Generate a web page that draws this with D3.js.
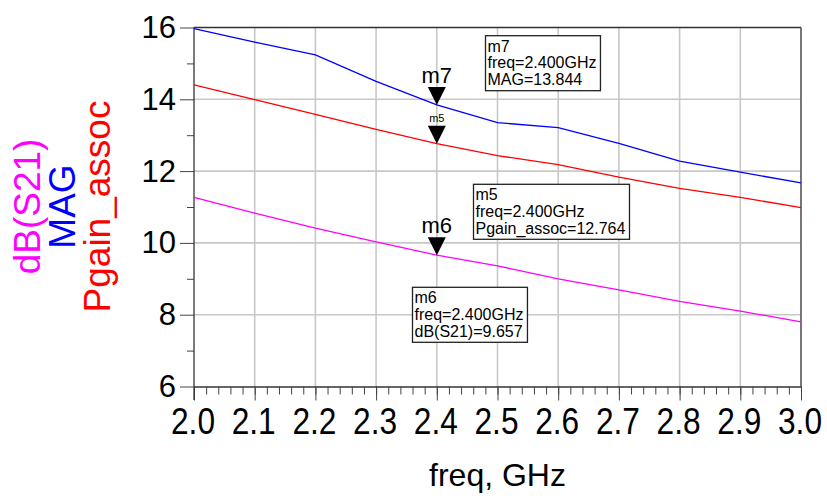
<!DOCTYPE html>
<html>
<head>
<meta charset="utf-8">
<script src="https://cdn.jsdelivr.net/npm/d3@7"></script>
<style>
  body { margin: 0; background: #fff; }
  text { font-family: "Liberation Sans", Arial, sans-serif; }
</style>
</head>
<body>
<div id="svg-area"></div>
<script>
// chart data
var freq = [2.0, 2.1, 2.2, 2.3, 2.4, 2.5, 2.6, 2.7, 2.8, 2.9, 3.0];
var mag = [15.97, 15.59, 15.24, 14.50, 13.844, 13.35, 13.21, 12.77, 12.28, 11.97, 11.67];
var pgainAssoc = [14.40, 13.99, 13.58, 13.16, 12.764, 12.43, 12.18, 11.83, 11.52, 11.27, 10.98];
var dbS21 = [11.27, 10.83, 10.41, 10.03, 9.657, 9.36, 9.00, 8.69, 8.37, 8.10, 7.80];
var xTicks = [2.0, 2.1, 2.2, 2.3, 2.4, 2.5, 2.6, 2.7, 2.8, 2.9, 3.0];
var yTicks = [6, 8, 10, 12, 14, 16];

// markers: name, trace, value at 2.4 GHz
var markerFreq = 2.4;
var markers = [
  { name: "m7", label: "MAG", value: 13.844, big: true },
  { name: "m5", label: "Pgain_assoc", value: 12.764, big: false },
  { name: "m6", label: "dB(S21)", value: 9.657, big: true }
];

var svgWidth = 827;
var svgHeight = 500;

var svg = d3.select("#svg-area")
  .append("svg")
  .attr("width", svgWidth)
  .attr("height", svgHeight);

svg.append("rect").attr("width", svgWidth).attr("height", svgHeight).attr("fill", "#fff");

// plot box (window.top is reserved, hence the prefixes)
var plotLeft = 194, plotRight = 801, plotTop = 27.5, plotBottom = 386.5;

var xScale = d3.scaleLinear().domain([2.0, 3.0]).range([plotLeft, plotRight]);
var yScale = d3.scaleLinear().domain([6, 16]).range([plotBottom, plotTop]);

// grid
var grid = svg.append("g").attr("stroke", "#c8c8c8").attr("stroke-width", 1.6);
grid.selectAll(".vg")
  .data(xTicks.slice(1))
  .enter().append("line")
  .attr("x1", d => xScale(d)).attr("x2", d => xScale(d))
  .attr("y1", plotTop).attr("y2", plotBottom);
grid.selectAll(".hg")
  .data(yTicks.slice(1, -1))
  .enter().append("line")
  .attr("x1", plotLeft).attr("x2", plotRight)
  .attr("y1", d => yScale(d)).attr("y2", d => yScale(d));

// frame top and right
svg.append("line")
  .attr("x1", plotLeft).attr("x2", plotRight)
  .attr("y1", plotTop).attr("y2", plotTop)
  .attr("stroke", "#333").attr("stroke-width", 1.5);
svg.append("line")
  .attr("x1", plotRight).attr("x2", plotRight)
  .attr("y1", plotTop).attr("y2", plotBottom)
  .attr("stroke", "#444").attr("stroke-width", 1.3);

// x axis
var minorX = d3.range(0, 51).map(i => 2.0 + i * 0.02);
svg.append("g")
  .attr("transform", `translate(0, ${plotBottom})`)
  .call(d3.axisBottom(xScale).tickValues(minorX).tickSize(8).tickSizeOuter(0).tickFormat(""))
  .call(g => g.selectAll("line").attr("stroke", "#444"))
  .call(g => g.select(".domain").attr("stroke", "#333").attr("stroke-width", 1.3));

var xAxis = svg.append("g")
  .attr("transform", `translate(0, ${plotBottom})`)
  .call(d3.axisBottom(xScale).tickValues(xTicks).tickSize(14).tickSizeOuter(0).tickFormat(d3.format(".1f")));
xAxis.select(".domain").remove();
xAxis.selectAll("line").attr("stroke", "#444");
xAxis.selectAll("text")
  .attr("y", 47).attr("dy", null)
  .attr("x", -1.5)
  .attr("font-size", 36)
  .attr("textLength", 44)
  .attr("lengthAdjust", "spacingAndGlyphs")
  .attr("font-family", "Liberation Sans, Arial, sans-serif")
  .attr("fill", "#000");

// y axis
var minorY = [7, 9, 11, 13, 15];
svg.append("g")
  .attr("transform", `translate(${plotLeft}, 0)`)
  .call(d3.axisLeft(yScale).tickValues(minorY).tickSize(7).tickSizeOuter(0).tickFormat(""))
  .call(g => g.select(".domain").remove())
  .call(g => g.selectAll("line").attr("stroke", "#444"));

var yAxis = svg.append("g")
  .attr("transform", `translate(${plotLeft}, 0)`)
  .call(d3.axisLeft(yScale).tickValues(yTicks).tickSize(14).tickPadding(4).tickSizeOuter(0));
yAxis.select(".domain").remove();
yAxis.selectAll("line").attr("stroke", "#444");
yAxis.selectAll("text")
  .attr("font-size", 31)
  .attr("font-family", "Liberation Sans, Arial, sans-serif")
  .attr("fill", "#000");

svg.append("line")
  .attr("x1", plotLeft).attr("x2", plotLeft)
  .attr("y1", plotTop).attr("y2", 400)
  .attr("stroke", "#333").attr("stroke-width", 1.3);

// traces
var line = d3.line()
  .x((d, i) => xScale(freq[i]))
  .y(d => yScale(d));

[[mag, "#0000ff"], [pgainAssoc, "#ff0000"], [dbS21, "#ff00ff"]].forEach(function(s) {
  svg.append("path")
    .datum(s[0])
    .attr("d", line)
    .attr("fill", "none")
    .attr("stroke", s[1])
    .attr("stroke-width", 1.3);
});

// marker triangles
markers.forEach(function(m) {
  var tx = xScale(markerFreq), ty = yScale(m.value);
  svg.append("path")
    .attr("d", `M${tx - 9},${ty - 18}L${tx + 9},${ty - 18}L${tx},${ty}Z`)
    .attr("fill", "#000");
  svg.append("text")
    .attr("x", tx)
    .attr("y", ty - 22)
    .attr("text-anchor", "middle")
    .attr("font-size", m.big ? 22 : 11)
    .attr("fill", "#000")
    .text(m.name);
});

// marker readout boxes
var boxPos = { m7: [485.5, 35.7], m5: [473.5, 184.3], m6: [412.5, 287.3] };
markers.forEach(function(m) {
  var p = boxPos[m.name];
  var g = svg.append("g").attr("transform", `translate(${p[0]}, ${p[1]})`);
  var rect = g.append("rect").attr("fill", "#fff").attr("stroke", "#222").attr("stroke-width", 1.3);
  var lines = [m.name, "freq=" + markerFreq.toFixed(3) + "GHz", m.label + "=" + m.value.toFixed(3)];
  var t = g.append("text").attr("font-size", 16).attr("fill", "#000");
  lines.forEach(function(s, i) {
    t.append("tspan").attr("x", 2).attr("y", 16 + i * 16.7).text(s);
  });
  var bb = t.node().getBBox();
  rect.attr("width", bb.width + 6).attr("height", 55);
});

// y axis title
var yTitles = [["dB(S21)", "#ff00ff", 40], ["MAG", "#0000ff", 75], ["Pgain_assoc", "#ff0000", 110]];
yTitles.forEach(function(t) {
  svg.append("text")
    .attr("transform", `translate(${t[2]}, 206.5) rotate(-90)`)
    .attr("text-anchor", "middle")
    .attr("font-size", 37)
    .attr("fill", t[1])
    .text(t[0]);
});

// x axis title
svg.append("text")
  .attr("x", (plotLeft + plotRight) / 2)
  .attr("y", 486)
  .attr("text-anchor", "middle")
  .attr("font-size", 32)
  .attr("fill", "#000")
  .text("freq, GHz");
</script>
</body>
</html>
